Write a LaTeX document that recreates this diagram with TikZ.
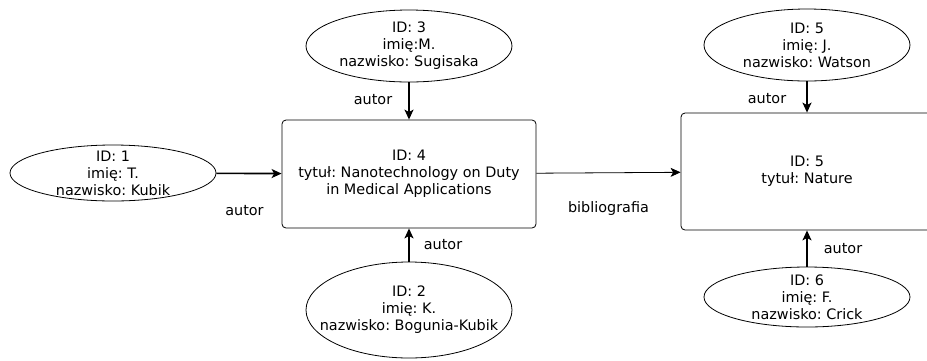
\documentclass[tikz,border=0pt]{standalone}
\usepackage{fontspec}
\setmainfont{DejaVu Sans}
\usetikzlibrary{arrows.meta,shapes,positioning}
\frenchspacing

\tikzset{
  rekord/.style={ellipse, draw, line width=0.8pt, inner sep=0pt},
  tekst/.style={align=center, inner sep=0pt},
  praca/.style={draw, line width=0.8pt, rounded corners=4pt, align=center},
  rel/.style={-{Stealth[length=10pt,width=9pt,inset=2.5pt]}, line width=1.6pt},
  bib/.style={-{Stealth[length=10pt,width=9pt,inset=2.5pt]}, line width=0.8pt},
  lbl/.style={inner sep=0pt}
}

\begin{document}
\begin{tikzpicture}[x=1pt, y=-1pt, font=\fontsize{14.4}{17}\selectfont]
\useasboundingbox (0,0) rectangle (927,360);
\clip (0,0) rectangle (927,360);

% prace
\node [praca, minimum width=254pt, minimum height=108pt] (p4) at (409,174) {ID: 4\\tytuł: Nanotechnology on Duty\\in Medical Applications};
\node [praca, minimum width=252pt, minimum height=117pt] (p5) at (807,171.5) {ID: 5\\tytuł: Nature};

% autorzy
\node [rekord, minimum width=206pt, minimum height=56pt, label={[tekst]center:{ID: 1\\imię: T.\\nazwisko: Kubik}}] (a1) at (113,173) {};
\node [rekord, minimum width=206pt, minimum height=72pt, label={[tekst]center:{ID: 3\\imię:M.\\nazwisko: Sugisaka}}] (a3) at (409,46) {};
\node [rekord, minimum width=206pt, minimum height=96pt, label={[tekst]center:{ID: 2\\imię: K.\\nazwisko: Bogunia-Kubik}}] (a2) at (409,310) {};
\node [rekord, minimum width=206pt, minimum height=72pt, label={[tekst]center:{ID: 5\\imię: J.\\nazwisko: Watson}}] (a5) at (807,45) {};
\node [rekord, minimum width=206pt, minimum height=60pt, label={[tekst]center:{ID: 6\\imię: F.\\nazwisko: Crick}}] (a6) at (807,297) {};

% relacje
\draw [rel] (a1) -- node [lbl, xshift=-4.5pt, yshift=-37pt] {autor} (p4);
\draw [rel] (a3) -- node [lbl, xshift=-36pt, yshift=1pt] {autor} (p4);
\draw [rel] (a2) -- node [lbl, xshift=34pt] {autor} (p4);
\draw [bib] (p4) -- node [lbl, yshift=-35.5pt] {bibliografia} (p5);
\draw [rel] (a5) -- node [lbl, xshift=-40pt, yshift=-2pt] {autor} (p5);
\draw [rel] (a6) -- node [lbl, xshift=36pt] {autor} (p5);
\end{tikzpicture}
\end{document}
